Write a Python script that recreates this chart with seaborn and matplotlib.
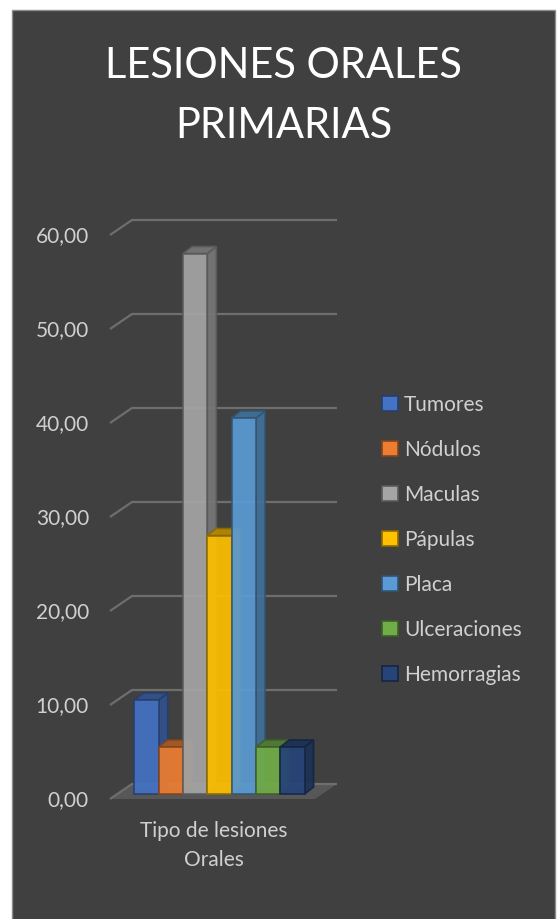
import matplotlib.pyplot as plt
import matplotlib.transforms as mtransforms
from matplotlib.colors import to_rgb
from matplotlib.patches import Rectangle, Polygon, Patch
import pandas as pd
import seaborn as sns

# datos del grafico
lesiones = ["Tumores", "Nódulos", "Maculas", "Pápulas", "Placa", "Ulceraciones", "Hemorragias"]
porcentajes = [10.0, 5.0, 57.5, 27.5, 40.0, 5.0, 5.0]
colores = ["#4472C4", "#ED7D31", "#A5A5A5", "#FFC000", "#5B9BD5", "#70AD47", "#264478"]
categoria = "Tipo de lesiones\nOrales"
yticks = [0, 10, 20, 30, 40, 50, 60]

df = pd.DataFrame({"lesion": lesiones, "valor": porcentajes, "grupo": categoria})

sns.set_style("dark")
plt.rcParams["font.family"] = ["Lato", "DejaVu Sans"]
texto = "#d0d0d0"

fig = plt.figure(figsize=(5.58, 9.19), dpi=100)
fig.patch.set_facecolor("white")
fig.add_artist(Rectangle((12 / 558, -0.01), 543 / 558, 909 / 919 + 0.01,
                         transform=fig.transFigure, facecolor="#404040",
                         edgecolor="#8c8c8c", lw=1, zorder=0))

ax = fig.add_axes([117 / 558, 125 / 919, 205 / 558, 564 / 919])
sns.barplot(data=df, x="grupo", y="valor", hue="lesion", hue_order=lesiones,
            palette=colores, width=0.83, saturation=1, legend=False, ax=ax)
bars = list(ax.patches)
ax.set_xlim(-0.5, 0.5)
ax.set_ylim(0, 60)
ax.set_axis_off()


def shift(x, y, dx, dy):
    px = ax.transData.transform((x, y))
    return tuple(ax.transData.inverted().transform((px[0] + dx, px[1] + dy)))


def offset(dx, dy):
    return mtransforms.offset_copy(ax.transData, fig=fig, x=dx, y=dy, units="dots")


# suelo y pared del fondo (efecto 3D)
suelo = [shift(-0.5, 0, 15, 10), shift(0.5, 0, 15, 10),
         shift(0.5, 0, -7, -5), shift(-0.5, 0, -7, -5)]
ax.add_patch(Polygon(suelo, closed=True, facecolor="#575757", edgecolor="none",
                     zorder=0.5, clip_on=False))
for v in yticks:
    pts = [shift(-0.5, v, -7, -5), shift(-0.5, v, 15, 10), shift(0.5, v, 15, 10)]
    ax.plot([p[0] for p in pts], [p[1] for p in pts], color="#6e6e6e", lw=1.6,
            zorder=1, clip_on=False, solid_capstyle="butt")
    ax.text(-0.5, v, f"{v:.2f}".replace(".", ","), transform=offset(-28, -6),
            ha="right", va="center", color=texto, fontsize=15)

# caras laterales y superiores de cada barra
for i, bar in enumerate(bars):
    c = to_rgb(colores[i])
    oscuro = tuple(k * 0.72 for k in c)
    borde = tuple(k * 0.55 for k in c)
    x0 = bar.get_x()
    x1 = x0 + bar.get_width()
    h = bar.get_height()
    lado = [(x1, 0), (x1, h), shift(x1, h, 9, 7), shift(x1, 0, 9, 7)]
    tapa = [(x0, h), (x1, h), shift(x1, h, 9, 7), shift(x0, h, 9, 7)]
    ax.add_patch(Polygon(lado, closed=True, facecolor=oscuro, edgecolor=borde,
                         lw=1.2, alpha=0.92, zorder=10 + 3 * i, clip_on=False))
    ax.add_patch(Polygon(tapa, closed=True, facecolor=oscuro, edgecolor=borde,
                         lw=1.2, alpha=0.92, zorder=11 + 3 * i, clip_on=False))
    bar.set_facecolor(c)
    bar.set_alpha(0.92)
    bar.set_edgecolor(borde)
    bar.set_linewidth(1.2)
    bar.set_zorder(12 + 3 * i)
    bar.set_clip_on(False)

ax.text(0, 0, categoria, transform=offset(-6, -27), ha="center", va="top",
        color=texto, fontsize=15, linespacing=1.56)

fig.text(283.5 / 558, 1 - 47 / 919, "LESIONES ORALES\nPRIMARIAS", ha="center",
         va="top", color="white", fontsize=30, linespacing=1.7)

handles = [Patch(facecolor=c, edgecolor=tuple(k * 0.55 for k in to_rgb(c)), lw=1.2)
           for c in colores]
fig.legend(handles, lesiones, loc="upper left",
           bbox_to_anchor=(382 / 558, 1 - 395 / 919), frameon=False,
           fontsize=15, labelcolor=texto, handlelength=0.75, handleheight=0.75,
           handletextpad=0.3, labelspacing=1.2, borderpad=0, borderaxespad=0)

fig.savefig("out.png", dpi=100)
